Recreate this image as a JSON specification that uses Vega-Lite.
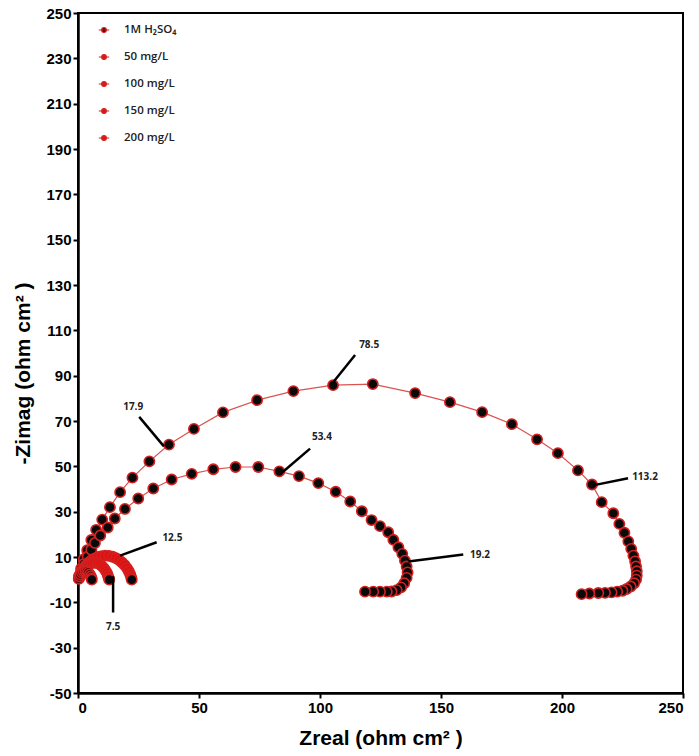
{
  "$schema": "https://vega.github.io/schema/vega-lite/v6.json",
  "width": 605,
  "height": 680,
  "autosize": {"type": "none"},
  "padding": {"left": 78, "top": 13, "right": 16, "bottom": 63},
  "background": "white",
  "config": {
    "view": {"stroke": "black", "strokeWidth": 2},
    "axis": {
      "grid": false,
      "domainColor": "black",
      "domainWidth": 2.5,
      "tickColor": "black",
      "tickWidth": 2,
      "tickSize": 5,
      "labelFont": "Liberation Sans",
      "labelFontWeight": "bold",
      "labelFontSize": 15,
      "labelColor": "black",
      "labelPadding": 2,
      "labelExpr": "'' + datum.value",
      "titleFont": "Liberation Sans",
      "titleFontWeight": "bold",
      "titleFontSize": 21,
      "titleColor": "black"
    },
    "legend": {
      "orient": "none",
      "legendX": 20,
      "legendY": 11,
      "padding": 0,
      "symbolType": "M-1,0H1M-0.45,0A0.45,0.45 0 1,0 0.45,0A0.45,0.45 0 1,0 -0.45,0Z",
      "symbolSize": 110,
      "symbolStrokeWidth": 1.2,
      "labelFont": "Open Sans",
      "labelFontWeight": 600,
      "labelFontSize": 11.5,
      "labelColor": "#222222",
      "labelOffset": 14,
      "rowPadding": 15
    }
  },
  "datasets": {
    "eis": [
      {"sample": "200 mg/L", "i": 1, "zr": 0.5, "zi": 1.8},
      {"sample": "200 mg/L", "i": 2, "zr": 1.3, "zi": 5},
      {"sample": "200 mg/L", "i": 3, "zr": 2.4, "zi": 9},
      {"sample": "200 mg/L", "i": 4, "zr": 3.8, "zi": 13},
      {"sample": "200 mg/L", "i": 5, "zr": 5.5, "zi": 17.5},
      {"sample": "200 mg/L", "i": 6, "zr": 7.5, "zi": 22},
      {"sample": "200 mg/L", "i": 7, "zr": 10, "zi": 26.5},
      {"sample": "200 mg/L", "i": 8, "zr": 13.2, "zi": 32},
      {"sample": "200 mg/L", "i": 9, "zr": 17.4, "zi": 38.6},
      {"sample": "200 mg/L", "i": 10, "zr": 22.5, "zi": 45},
      {"sample": "200 mg/L", "i": 11, "zr": 29.5, "zi": 52.2},
      {"sample": "200 mg/L", "i": 12, "zr": 37.6, "zi": 59.6},
      {"sample": "200 mg/L", "i": 13, "zr": 47.9, "zi": 66.5},
      {"sample": "200 mg/L", "i": 14, "zr": 59.9, "zi": 73.8},
      {"sample": "200 mg/L", "i": 15, "zr": 74, "zi": 79.2},
      {"sample": "200 mg/L", "i": 16, "zr": 89, "zi": 83.2},
      {"sample": "200 mg/L", "i": 17, "zr": 105.4, "zi": 85.8},
      {"sample": "200 mg/L", "i": 18, "zr": 121.8, "zi": 86.3},
      {"sample": "200 mg/L", "i": 19, "zr": 139.3, "zi": 82.3},
      {"sample": "200 mg/L", "i": 20, "zr": 153.7, "zi": 78.3},
      {"sample": "200 mg/L", "i": 21, "zr": 167, "zi": 73.9},
      {"sample": "200 mg/L", "i": 22, "zr": 179.3, "zi": 68.6},
      {"sample": "200 mg/L", "i": 23, "zr": 189.7, "zi": 61.9},
      {"sample": "200 mg/L", "i": 24, "zr": 198.3, "zi": 55.8},
      {"sample": "200 mg/L", "i": 25, "zr": 206.6, "zi": 48.2},
      {"sample": "200 mg/L", "i": 26, "zr": 212.4, "zi": 42},
      {"sample": "200 mg/L", "i": 27, "zr": 216.4, "zi": 34.2},
      {"sample": "200 mg/L", "i": 28, "zr": 221.2, "zi": 29.3},
      {"sample": "200 mg/L", "i": 29, "zr": 223.7, "zi": 24.6},
      {"sample": "200 mg/L", "i": 30, "zr": 225.8, "zi": 20.7},
      {"sample": "200 mg/L", "i": 31, "zr": 227.4, "zi": 16.9},
      {"sample": "200 mg/L", "i": 32, "zr": 228.6, "zi": 13.6},
      {"sample": "200 mg/L", "i": 33, "zr": 229.5, "zi": 10.6},
      {"sample": "200 mg/L", "i": 34, "zr": 230.2, "zi": 8.1},
      {"sample": "200 mg/L", "i": 35, "zr": 230.6, "zi": 5.8},
      {"sample": "200 mg/L", "i": 36, "zr": 230.9, "zi": 3.7},
      {"sample": "200 mg/L", "i": 37, "zr": 230.9, "zi": 1.8},
      {"sample": "200 mg/L", "i": 38, "zr": 230.6, "zi": 0},
      {"sample": "200 mg/L", "i": 39, "zr": 229.8, "zi": -1.6},
      {"sample": "200 mg/L", "i": 40, "zr": 228.4, "zi": -3},
      {"sample": "200 mg/L", "i": 41, "zr": 226.7, "zi": -4.1},
      {"sample": "200 mg/L", "i": 42, "zr": 225, "zi": -4.9},
      {"sample": "200 mg/L", "i": 43, "zr": 222.8, "zi": -5.3},
      {"sample": "200 mg/L", "i": 44, "zr": 220.5, "zi": -5.6},
      {"sample": "200 mg/L", "i": 45, "zr": 217.8, "zi": -5.8},
      {"sample": "200 mg/L", "i": 46, "zr": 215, "zi": -5.9},
      {"sample": "200 mg/L", "i": 47, "zr": 211.3, "zi": -6.1},
      {"sample": "200 mg/L", "i": 48, "zr": 208.1, "zi": -6.4},

      {"sample": "150 mg/L", "i": 1, "zr": 0.4, "zi": 1.2},
      {"sample": "150 mg/L", "i": 2, "zr": 1.3, "zi": 3.8},
      {"sample": "150 mg/L", "i": 3, "zr": 2.5, "zi": 7},
      {"sample": "150 mg/L", "i": 4, "zr": 4, "zi": 10.2},
      {"sample": "150 mg/L", "i": 5, "zr": 5.5, "zi": 13.2},
      {"sample": "150 mg/L", "i": 6, "zr": 7, "zi": 16.2},
      {"sample": "150 mg/L", "i": 7, "zr": 9.2, "zi": 19.5},
      {"sample": "150 mg/L", "i": 8, "zr": 12.3, "zi": 23},
      {"sample": "150 mg/L", "i": 9, "zr": 15.2, "zi": 27},
      {"sample": "150 mg/L", "i": 10, "zr": 19.4, "zi": 31.2},
      {"sample": "150 mg/L", "i": 11, "zr": 24.9, "zi": 35.8},
      {"sample": "150 mg/L", "i": 12, "zr": 31.1, "zi": 40.2},
      {"sample": "150 mg/L", "i": 13, "zr": 38.7, "zi": 44.2},
      {"sample": "150 mg/L", "i": 14, "zr": 47, "zi": 46.7},
      {"sample": "150 mg/L", "i": 15, "zr": 55.9, "zi": 48.7},
      {"sample": "150 mg/L", "i": 16, "zr": 65.1, "zi": 49.7},
      {"sample": "150 mg/L", "i": 17, "zr": 74.5, "zi": 49.7},
      {"sample": "150 mg/L", "i": 18, "zr": 83.2, "zi": 47.8},
      {"sample": "150 mg/L", "i": 19, "zr": 91.3, "zi": 45.7},
      {"sample": "150 mg/L", "i": 20, "zr": 99.3, "zi": 42.6},
      {"sample": "150 mg/L", "i": 21, "zr": 106.5, "zi": 38.8},
      {"sample": "150 mg/L", "i": 22, "zr": 112.5, "zi": 34.5},
      {"sample": "150 mg/L", "i": 23, "zr": 117.3, "zi": 30.2},
      {"sample": "150 mg/L", "i": 24, "zr": 121.3, "zi": 26.3},
      {"sample": "150 mg/L", "i": 25, "zr": 124.8, "zi": 23.6},
      {"sample": "150 mg/L", "i": 26, "zr": 128.2, "zi": 20.9},
      {"sample": "150 mg/L", "i": 27, "zr": 130.3, "zi": 17.6},
      {"sample": "150 mg/L", "i": 28, "zr": 132.4, "zi": 14.3},
      {"sample": "150 mg/L", "i": 29, "zr": 134, "zi": 11.4},
      {"sample": "150 mg/L", "i": 30, "zr": 135.1, "zi": 8.4},
      {"sample": "150 mg/L", "i": 31, "zr": 135.8, "zi": 5.8},
      {"sample": "150 mg/L", "i": 32, "zr": 136.2, "zi": 3.2},
      {"sample": "150 mg/L", "i": 33, "zr": 135.8, "zi": 0.8},
      {"sample": "150 mg/L", "i": 34, "zr": 134.8, "zi": -1.6},
      {"sample": "150 mg/L", "i": 35, "zr": 133.5, "zi": -3.4},
      {"sample": "150 mg/L", "i": 36, "zr": 131.7, "zi": -4.6},
      {"sample": "150 mg/L", "i": 37, "zr": 129.6, "zi": -5.2},
      {"sample": "150 mg/L", "i": 38, "zr": 127.6, "zi": -5.3},
      {"sample": "150 mg/L", "i": 39, "zr": 124.8, "zi": -5.3},
      {"sample": "150 mg/L", "i": 40, "zr": 122, "zi": -5.3},
      {"sample": "150 mg/L", "i": 41, "zr": 118.6, "zi": -5.3},

      {"sample": "100 mg/L", "i": 1, "zr": 0.5, "zi": 0.8},
      {"sample": "100 mg/L", "i": 2, "zr": 1, "zi": 2.2},
      {"sample": "100 mg/L", "i": 3, "zr": 1.6, "zi": 3.7},
      {"sample": "100 mg/L", "i": 4, "zr": 2.4, "zi": 5.1},
      {"sample": "100 mg/L", "i": 5, "zr": 3.3, "zi": 6.4},
      {"sample": "100 mg/L", "i": 6, "zr": 4.4, "zi": 7.6},
      {"sample": "100 mg/L", "i": 7, "zr": 5.6, "zi": 8.6},
      {"sample": "100 mg/L", "i": 8, "zr": 6.9, "zi": 9.4},
      {"sample": "100 mg/L", "i": 9, "zr": 8.3, "zi": 10},
      {"sample": "100 mg/L", "i": 10, "zr": 9.8, "zi": 10.4},
      {"sample": "100 mg/L", "i": 11, "zr": 11.3, "zi": 10.6},
      {"sample": "100 mg/L", "i": 12, "zr": 12.8, "zi": 10.5},
      {"sample": "100 mg/L", "i": 13, "zr": 14.3, "zi": 10.1},
      {"sample": "100 mg/L", "i": 14, "zr": 15.7, "zi": 9.5},
      {"sample": "100 mg/L", "i": 15, "zr": 17, "zi": 8.6},
      {"sample": "100 mg/L", "i": 16, "zr": 18.2, "zi": 7.6},
      {"sample": "100 mg/L", "i": 17, "zr": 19.3, "zi": 6.4},
      {"sample": "100 mg/L", "i": 18, "zr": 20.2, "zi": 5.1},
      {"sample": "100 mg/L", "i": 19, "zr": 21, "zi": 3.7},
      {"sample": "100 mg/L", "i": 20, "zr": 21.6, "zi": 2.3},
      {"sample": "100 mg/L", "i": 21, "zr": 22, "zi": 1},
      {"sample": "100 mg/L", "i": 22, "zr": 22.2, "zi": 0},

      {"sample": "50 mg/L", "i": 1, "zr": 0.4, "zi": 0.6},
      {"sample": "50 mg/L", "i": 2, "zr": 0.8, "zi": 1.9},
      {"sample": "50 mg/L", "i": 3, "zr": 1.3, "zi": 3.1},
      {"sample": "50 mg/L", "i": 4, "zr": 2, "zi": 4.3},
      {"sample": "50 mg/L", "i": 5, "zr": 2.8, "zi": 5.3},
      {"sample": "50 mg/L", "i": 6, "zr": 3.7, "zi": 6.2},
      {"sample": "50 mg/L", "i": 7, "zr": 4.7, "zi": 6.9},
      {"sample": "50 mg/L", "i": 8, "zr": 5.8, "zi": 7.3},
      {"sample": "50 mg/L", "i": 9, "zr": 6.9, "zi": 7.5},
      {"sample": "50 mg/L", "i": 10, "zr": 8, "zi": 7.3},
      {"sample": "50 mg/L", "i": 11, "zr": 9, "zi": 6.8},
      {"sample": "50 mg/L", "i": 12, "zr": 9.9, "zi": 6},
      {"sample": "50 mg/L", "i": 13, "zr": 10.7, "zi": 5.1},
      {"sample": "50 mg/L", "i": 14, "zr": 11.4, "zi": 4},
      {"sample": "50 mg/L", "i": 15, "zr": 12, "zi": 2.9},
      {"sample": "50 mg/L", "i": 16, "zr": 12.4, "zi": 1.7},
      {"sample": "50 mg/L", "i": 17, "zr": 12.7, "zi": 0.7},
      {"sample": "50 mg/L", "i": 18, "zr": 12.9, "zi": 0},

      {"sample": "1M H₂SO₄", "i": 1, "zr": 0.3, "zi": 0.4},
      {"sample": "1M H₂SO₄", "i": 2, "zr": 0.6, "zi": 1.4},
      {"sample": "1M H₂SO₄", "i": 3, "zr": 1, "zi": 2.3},
      {"sample": "1M H₂SO₄", "i": 4, "zr": 1.6, "zi": 3.1},
      {"sample": "1M H₂SO₄", "i": 5, "zr": 2.3, "zi": 3.6},
      {"sample": "1M H₂SO₄", "i": 6, "zr": 3, "zi": 3.8},
      {"sample": "1M H₂SO₄", "i": 7, "zr": 3.7, "zi": 3.6},
      {"sample": "1M H₂SO₄", "i": 8, "zr": 4.3, "zi": 3.1},
      {"sample": "1M H₂SO₄", "i": 9, "zr": 4.9, "zi": 2.3},
      {"sample": "1M H₂SO₄", "i": 10, "zr": 5.3, "zi": 1.4},
      {"sample": "1M H₂SO₄", "i": 11, "zr": 5.6, "zi": 0.6},
      {"sample": "1M H₂SO₄", "i": 12, "zr": 5.7, "zi": 0}
    ],
    "notes": [
      {"label": "7.5", "zr_a": 14.5, "zi_a": 1.5, "zr_b": 14.5, "zi_b": -14.5, "zr_t": 14.5, "zi_t": -20.8},
      {"label": "12.5", "zr_a": 17.4, "zi_a": 10.6, "zr_b": 32.5, "zi_b": 16.5, "zr_t": 39, "zi_t": 18.3},
      {"label": "17.9", "zr_a": 35.5, "zi_a": 58.8, "zr_b": 25.3, "zi_b": 71.8, "zr_t": 22.8, "zi_t": 76.3},
      {"label": "78.5", "zr_a": 105.2, "zi_a": 86.8, "zr_b": 114.5, "zi_b": 99.1, "zr_t": 120.3, "zi_t": 103.5},
      {"label": "53.4", "zr_a": 84.6, "zi_a": 47.5, "zr_b": 95.9, "zi_b": 57.8, "zr_t": 100.8, "zi_t": 62.8},
      {"label": "19.2", "zr_a": 136.5, "zi_a": 8, "zr_b": 159.2, "zi_b": 11.1, "zr_t": 166.1, "zi_t": 11.1},
      {"label": "113.2", "zr_a": 212.8, "zi_a": 41.6, "zr_b": 227.3, "zi_b": 44.7, "zr_t": 234.3, "zi_t": 45.1}
    ]
  },
  "layer": [
    {
      "data": {"name": "eis"},
      "mark": {"type": "line", "stroke": "#d9534f", "strokeWidth": 1.2},
      "encoding": {
        "x": {
          "field": "zr", "type": "quantitative",
          "scale": {"domain": [0, 250], "nice": false, "zero": false},
          "axis": {"values": [0, 50, 100, 150, 200, 250], "title": "Zreal (ohm cm² )", "titlePadding": 12}
        },
        "y": {
          "field": "zi", "type": "quantitative",
          "scale": {"domain": [-50, 250], "nice": false, "zero": false},
          "axis": {"values": [-50, -30, -10, 10, 30, 50, 70, 90, 110, 130, 150, 170, 190, 210, 230, 250], "title": "-Zimag (ohm cm² )", "titlePadding": 12, "titleY": 360}
        },
        "detail": {"field": "sample"},
        "order": {"field": "i", "type": "quantitative"}
      }
    },
    {
      "data": {"name": "eis"},
      "transform": [
        {"joinaggregate": [{"op": "max", "field": "zr", "as": "zr_max"}], "groupby": ["sample"]}
      ],
      "mark": {"type": "point", "shape": "circle", "filled": true, "size": 105, "opacity": 1, "stroke": "#d42020", "strokeWidth": 1.6},
      "encoding": {
        "x": {"field": "zr", "type": "quantitative", "title": "Zreal (ohm cm² )"},
        "y": {"field": "zi", "type": "quantitative", "title": "-Zimag (ohm cm² )"},
        "fill": {
          "condition": {
            "test": "datum.zr === datum.zr_max || datum.sample === '150 mg/L' || datum.sample === '200 mg/L'",
            "value": "#0a0a0a"
          },
          "field": "sample",
          "type": "nominal",
          "scale": {
            "domain": ["1M H₂SO₄", "50 mg/L", "100 mg/L", "150 mg/L", "200 mg/L"],
            "range": ["#1a0303", "#e01010", "#e01010", "#e01010", "#e01010"]
          },
          "legend": {"title": null}
        }
      }
    },
    {
      "data": {"name": "notes"},
      "mark": {"type": "rule", "stroke": "black", "strokeWidth": 2.5},
      "encoding": {
        "x": {"field": "zr_a", "type": "quantitative", "title": "Zreal (ohm cm² )"},
        "y": {"field": "zi_a", "type": "quantitative", "title": "-Zimag (ohm cm² )"},
        "x2": {"field": "zr_b"},
        "y2": {"field": "zi_b"}
      }
    },
    {
      "data": {"name": "notes"},
      "mark": {"type": "text", "font": "Open Sans", "fontWeight": 700, "fontSize": 10, "color": "#222222", "align": "center", "baseline": "middle"},
      "encoding": {
        "x": {"field": "zr_t", "type": "quantitative", "title": "Zreal (ohm cm² )"},
        "y": {"field": "zi_t", "type": "quantitative", "title": "-Zimag (ohm cm² )"},
        "text": {"field": "label"}
      }
    }
  ]
}
